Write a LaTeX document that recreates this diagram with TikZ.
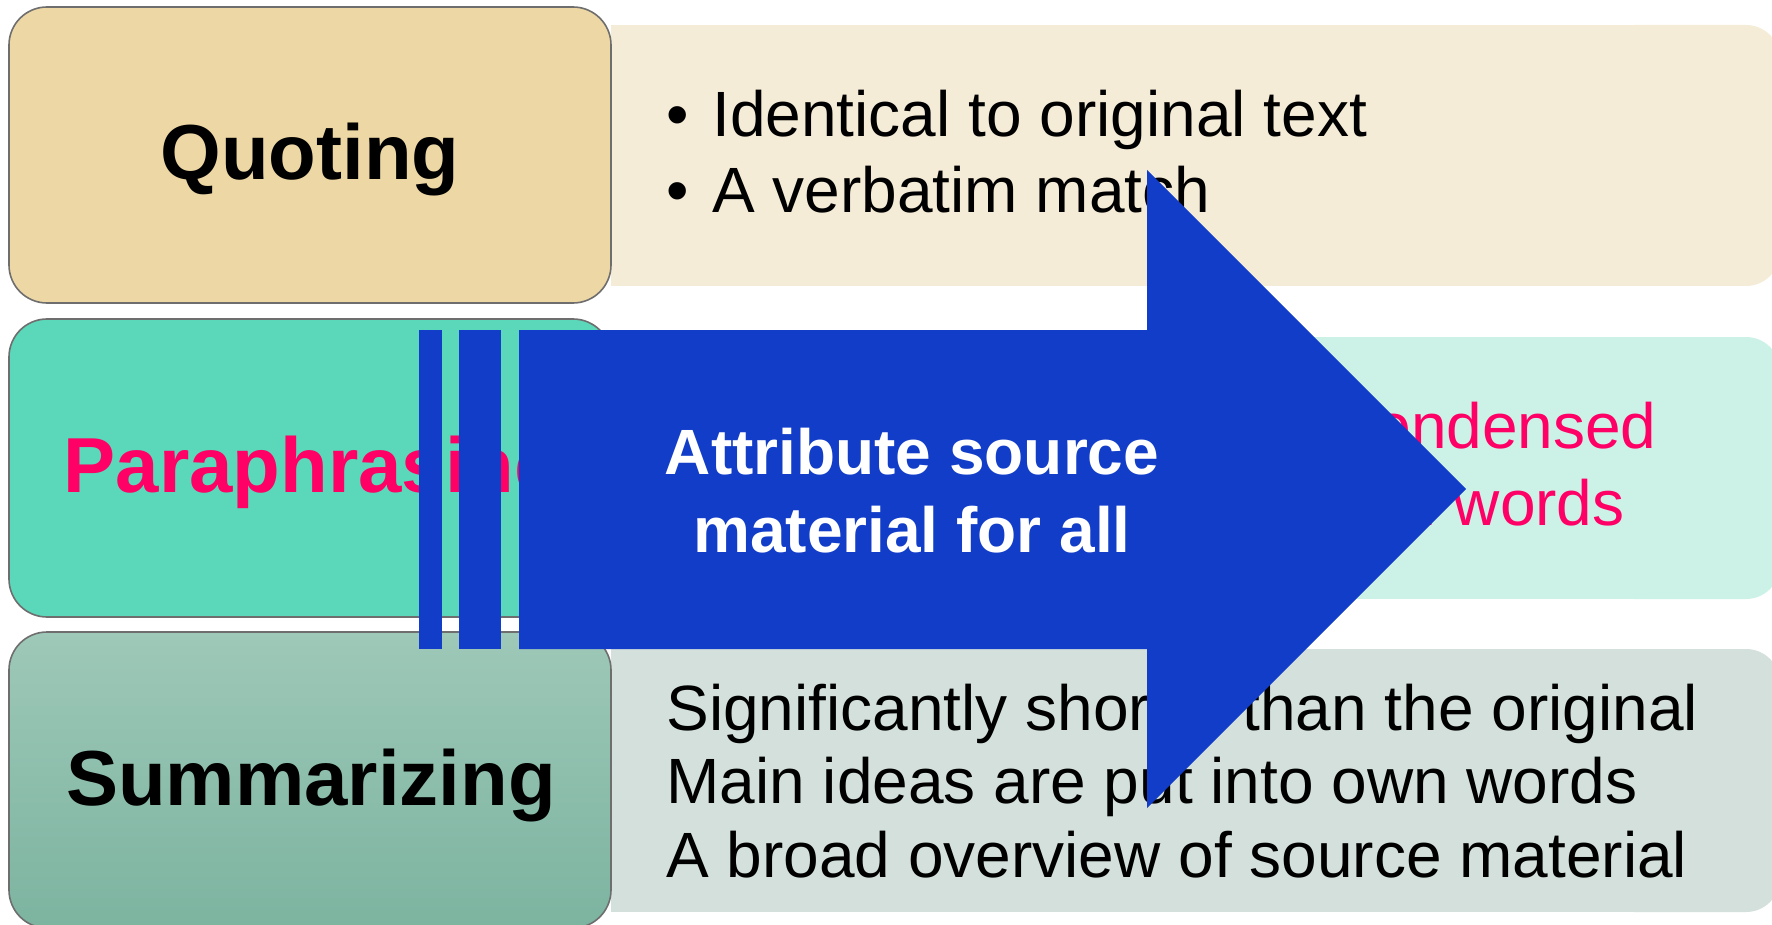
\documentclass[tikz,border=0pt]{standalone}
\usepackage{fontspec}
\setmainfont{Liberation Sans}
\usepackage{tikz}

\definecolor{quoteTan}{HTML}{EDD7A4}
\definecolor{quoteLight}{HTML}{F5ECD7}
\definecolor{paraGreen}{HTML}{5AD8B9}
\definecolor{paraLight}{HTML}{CCF2E7}
\definecolor{sumTop}{HTML}{9EC8B8}
\definecolor{sumBottom}{HTML}{7CB4A0}
\definecolor{sumLight}{HTML}{D3E0DC}
\definecolor{arrowBlue}{HTML}{123DC9}
\definecolor{paraPink}{HTML}{FF0066}
\definecolor{edgeGrey}{HTML}{6E6E6E}

\begin{document}
\begin{tikzpicture}[x=0.5pt, y=-0.5pt,
    tag/.style={inner sep=0pt, anchor=base, font=\fontsize{39}{47}\selectfont\bfseries},
    detail/.style={inner sep=0pt, anchor=base west, font=\fontsize{32}{38}\selectfont},
    leftbox/.style={rounded corners=19pt, draw=edgeGrey, line width=0.8pt}]
\useasboundingbox (0,0) rectangle (1772,925);

% Detail panels (square on the left, rounded on the right)
\foreach \top/\bot/\col in {25/286/quoteLight, 337/599/paraLight, 649/912/sumLight} {
    \fill[\col] (611,\top) rectangle (1700,\bot);
    \fill[\col, rounded corners=17pt] (1600,\top) rectangle (1780,\bot);
}

% Left boxes
\draw[leftbox, fill=quoteTan] (9,7) rectangle (611,303);
\draw[leftbox, fill=paraGreen] (9,319) rectangle (611,617);
\draw[leftbox, top color=sumTop, bottom color=sumBottom] (9,632) rectangle (611,928);

\node[tag] (quoting) at (310,180) {Quoting};
\node[tag, text=paraPink] (para) at (313,492) {Paraphrasing};
\node[tag] (summ) at (311,805) {Summarizing};

% Quoting detail
\foreach \txt [count=\k] in {Identical to original text, A verbatim match} {
    \node[detail] (qb\k) at (666, {137+76*(\k-1)}) {•};
    \node[detail] (qt\k) at (712, {137+76*(\k-1)}) {\txt};
}

% Paraphrasing detail
\node[detail, anchor=base east, text=paraPink] (pt1) at (1657,448) {condensed};
\node[detail, anchor=base east, text=paraPink] (pt2) at (1625,525) {own words};

% Summarizing detail
\foreach \txt [count=\k] in {Significantly shorter than the original, Main ideas are put into own words, A broad overview of source material}
    \node[detail] (st\k) at (666, {730+73.5*(\k-1)}) {\txt};

% Big arrow on top
\fill[arrowBlue] (419,330) rectangle (442,649);
\fill[arrowBlue] (459,330) rectangle (501,649);
\fill[arrowBlue] (519,330) -- (1147,330) -- (1147,170) -- (1466,489)
    -- (1147,808) -- (1147,649) -- (519,649) -- cycle;
\node[tag, font=\fontsize{32}{38}\selectfont\bfseries, text=white] (attr1) at (912,474) {Attribute source};
\node[tag, font=\fontsize{32}{38}\selectfont\bfseries, text=white] (attr2) at (912,552) {material for all};
\end{tikzpicture}
\end{document}
